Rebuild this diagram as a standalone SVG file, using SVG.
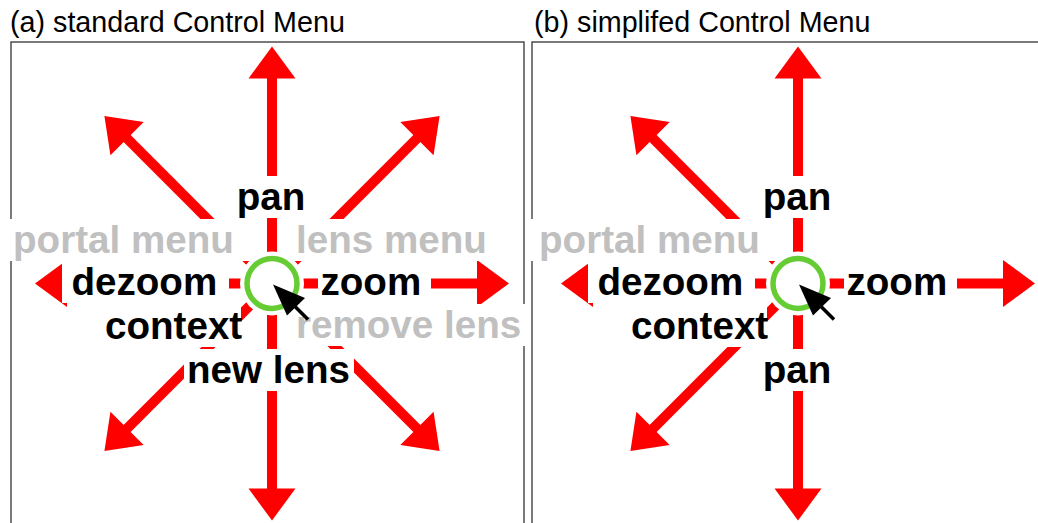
<svg xmlns="http://www.w3.org/2000/svg" width="1038" height="523" viewBox="0 0 1038 523">
<style>
.title{font-family:"Liberation Sans",Arial,sans-serif;font-size:28.7px;fill:#000}
.lb{font-family:"Liberation Sans",Arial,sans-serif;font-size:38.6px;font-weight:bold;fill:#000}
.gr{fill:#c0c0c0}
.bg{fill:#fff}
.arrow{fill:#f00}
.frame{fill:none;stroke:#333;stroke-width:1.3}
</style>
<defs>
<g id="arr" class="arrow"><rect x="0" y="-5" width="206" height="10"/><polygon points="205,-23.5 237,0 205,23.5"/></g>
<g id="hub"><circle r="32" fill="#fff"/><circle r="25" fill="none" stroke="#66cc33" stroke-width="5.5"/><polygon points="1,1 33,14.5 15,32" fill="#000"/><line x1="20" y1="20" x2="36" y2="36" stroke="#000" stroke-width="3.5"/></g>
</defs>
<rect width="1038" height="523" fill="#fff"/>
<g id="titles">
<text class="title" x="10" y="32">(a) standard Control Menu</text>
<text class="title" x="534" y="32">(b) simplifed Control Menu</text>
</g>
<g id="frames">
<rect class="frame" x="11" y="42" width="513" height="500"/>
<rect class="frame" x="532" y="42" width="520" height="500"/>
</g>
<g id="connectors">
<g transform="translate(272,283.5)">
<use href="#arr" transform="rotate(-90)"/>
<use href="#arr" transform="rotate(90)"/>
<use href="#arr" transform="rotate(180)"/>
<use href="#arr"/>
<use href="#arr" transform="rotate(-135)"/>
<use href="#arr" transform="rotate(-45)"/>
<use href="#arr" transform="rotate(135)"/>
<use href="#arr" transform="rotate(45)"/>
</g>
<g transform="translate(798,283.5)">
<use href="#arr" transform="rotate(-90)"/>
<use href="#arr" transform="rotate(90)"/>
<use href="#arr" transform="rotate(180)"/>
<use href="#arr"/>
<use href="#arr" transform="rotate(-135)"/>
<use href="#arr" transform="rotate(135)"/>
</g>
</g>
<g id="panel-a-labels">
<g id="a-pan"><rect class="bg" x="232" y="176" width="78" height="42"/><text class="lb" x="271" y="210" text-anchor="middle">pan</text></g>
<g id="a-portal"><rect class="bg" x="3" y="219" width="255" height="42"/><text class="lb gr" x="13" y="253">portal menu</text></g>
<g id="a-lensmenu"><rect class="bg" x="286" y="219" width="204" height="42"/><text class="lb gr" x="296" y="253">lens menu</text></g>
<g id="a-dezoom"><rect class="bg" x="62" y="261" width="167" height="42"/><text class="lb" x="71.5" y="295">dezoom</text></g>
<g id="a-zoom"><rect class="bg" x="318" y="261" width="113" height="42"/><text class="lb" x="320.5" y="295">zoom</text></g>
<g id="a-context"><rect class="bg" x="100" y="305" width="141" height="42"/><text class="lb" x="105" y="339">context</text></g>
<g id="a-remove"><rect class="bg" x="286" y="304" width="242" height="42"/><text class="lb gr" x="296" y="338">remove lens</text></g>
<g id="a-newlens"><rect class="bg" x="184" y="349" width="170" height="42"/><text class="lb" x="187" y="383">new lens</text></g>
</g>
<g id="panel-b-labels" transform="translate(526,0)">
<g id="b-pan"><rect class="bg" x="232" y="176" width="78" height="42"/><text class="lb" x="271" y="210" text-anchor="middle">pan</text></g>
<g id="b-portal"><rect class="bg" x="3" y="219" width="255" height="42"/><text class="lb gr" x="13" y="253">portal menu</text></g>
<g id="b-dezoom"><rect class="bg" x="62" y="261" width="167" height="42"/><text class="lb" x="71.5" y="295">dezoom</text></g>
<g id="b-zoom"><rect class="bg" x="318" y="261" width="113" height="42"/><text class="lb" x="320.5" y="295">zoom</text></g>
<g id="b-context"><rect class="bg" x="100" y="305" width="141" height="42"/><text class="lb" x="105" y="339">context</text></g>
<g id="b-pan2"><rect class="bg" x="232" y="349" width="78" height="42"/><text class="lb" x="271" y="383" text-anchor="middle">pan</text></g>
</g>
<g id="hub-a"><use href="#hub" transform="translate(272,283.5)"/></g>
<g id="hub-b"><use href="#hub" transform="translate(798,283.5)"/></g>
</svg>
